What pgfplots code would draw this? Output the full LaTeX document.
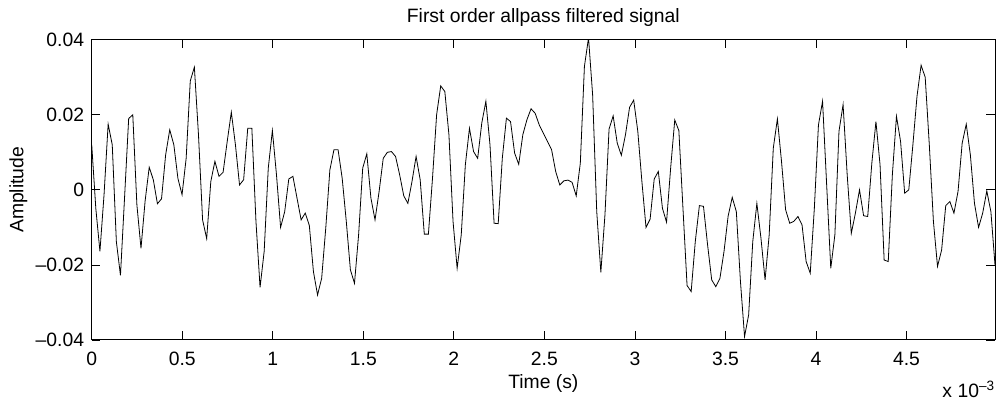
\documentclass[border=0pt]{standalone}
\usepackage{fontspec}
\setmainfont{Liberation Sans}
\usepackage{pgfplots}
\pgfplotsset{compat=1.18}
\usepackage{pgfplotstable}
\usetikzlibrary{calc}
\pgfplotstableread{
n y
0 0.012
1 -0.005
2 -0.0164
3 -0.0013
4 0.0175
5 0.012
6 -0.0138
7 -0.0228
8 -0.002
9 0.019
10 0.020
11 -0.004
12 -0.0156
13 -0.003
14 0.006
15 0.0027
16 -0.0037
17 -0.0024
18 0.0093
19 0.016
20 0.012
21 0.003
22 -0.0013
23 0.0084
24 0.029
25 0.0327
26 0.0147
27 -0.008
28 -0.013
29 0.0022
30 0.0076
31 0.0036
32 0.0047
33 0.0129
34 0.0207
35 0.012
36 0.0013
37 0.0027
38 0.0164
39 0.0164
40 -0.0084
41 -0.026
42 -0.0164
43 0.0058
44 0.0158
45 0.004
46 -0.010
47 -0.0058
48 0.0029
49 0.0036
50 -0.0022
51 -0.008
52 -0.0062
53 -0.0095
54 -0.0218
55 -0.028
56 -0.0236
57 -0.0102
58 0.0053
59 0.0107
60 0.0107
61 0.0031
62 -0.0084
63 -0.0213
64 -0.0249
65 -0.012
66 0.0058
67 0.0096
68 -0.0022
69 -0.008
70 -0.0004
71 0.0084
72 0.010
73 0.0102
74 0.0089
75 0.004
76 -0.0016
77 -0.0036
78 0.0022
79 0.0089
80 0.0027
81 -0.0118
82 -0.0118
83 0.0031
84 0.020
85 0.0277
86 0.0262
87 0.0147
88 -0.0084
89 -0.0209
90 -0.012
91 0.0067
92 0.0164
93 0.0102
94 0.0084
95 0.0178
96 0.0236
97 0.012
98 -0.0089
99 -0.009
100 0.0084
101 0.0191
102 0.0182
103 0.0098
104 0.0068
105 0.0147
106 0.0187
107 0.0216
108 0.0204
109 0.0173
110 0.0151
111 0.0129
112 0.0107
113 0.0049
114 0.0013
115 0.0024
116 0.0026
117 0.002
118 -0.0016
119 0.0071
120 0.0329
121 0.0405
122 0.0253
123 -0.0058
124 -0.022
125 -0.0067
126 0.0162
127 0.0197
128 0.0124
129 0.0092
130 0.0147
131 0.022
132 0.0239
133 0.0156
134 0.0022
135 -0.010
136 -0.0078
137 0.0029
138 0.0049
139 -0.0049
140 -0.0086
141 0.0058
142 0.0186
143 0.0158
144 -0.0049
145 -0.0255
146 -0.0271
147 -0.0138
148 -0.0042
149 -0.0044
150 -0.0147
151 -0.024
152 -0.0258
153 -0.0236
154 -0.0164
155 -0.007
156 -0.002
157 -0.0058
158 -0.0244
159 -0.0391
160 -0.0333
161 -0.0138
162 -0.0036
163 -0.0129
164 -0.024
165 -0.012
166 0.0111
167 0.0189
168 0.0076
169 -0.0053
170 -0.0089
171 -0.0084
172 -0.0071
173 -0.0093
174 -0.0191
175 -0.0222
176 -0.0049
177 0.0173
178 0.0236
179 0.0013
180 -0.0209
181 -0.012
182 0.0156
183 0.0227
184 0.004
185 -0.0116
186 -0.0062
187 0.0
188 -0.0069
189 -0.0071
190 0.0071
191 0.0182
192 0.0067
193 -0.0187
194 -0.0191
195 0.004
196 0.0196
197 0.0129
198 -0.0009
199 0.0
200 0.012
201 0.0249
202 0.0332
203 0.030
204 0.012
205 -0.0084
206 -0.0204
207 -0.016
208 -0.0042
209 -0.0031
210 -0.0062
211 -0.0004
212 0.0124
213 0.0175
214 0.0093
215 -0.0036
216 -0.010
217 -0.0062
218 -0.0003
219 -0.0058
220 -0.02
}\sig

\begin{document}
\begin{tikzpicture}[font=\fontsize{14.5}{17}\selectfont]
\begin{axis}[name=ax, at={(0,0)}, anchor=south west,
  scale only axis, width=677.5pt, height=225.2pt,
  xmin=0, xmax=220, ymin=-0.04, ymax=0.04,
  scaled x ticks=false, scaled y ticks=false,
  xtick={0,22.05,44.1,66.15,88.2,110.25,132.3,154.35,176.4,198.45},
  xticklabels={0,0.5,1,1.5,2,2.5,3,3.5,4,4.5},
  ytick={-0.04,-0.02,0,0.02,0.04},
  yticklabels={–0.04,–0.02,0,0.02,0.04},
  tick align=inside, major tick length=6.4pt,
  axis line style={line width=0.75pt},
  every tick/.style={black, line width=0.6pt},
  xticklabel style={anchor=base, inner sep=0pt, yshift=-19.1pt},
  yticklabel style={anchor=east, inner sep=0pt, xshift=-5.5pt},
  every axis title shift=0pt,
  title={First order allpass filtered signal},
  title style={at={(axis description cs:0.5,1.0577)}, anchor=base, inner sep=0pt, yshift=0pt},
  xlabel={Time (s)},
  xlabel style={at={(axis description cs:0.5,-0.1607)}, anchor=base, inner sep=0pt},
  ylabel={Amplitude},
  ylabel style={at={(axis description cs:-0.0757,0.5)}, anchor=base, inner sep=0pt},
]
\addplot[black, line width=0.6pt, mark=none] table[x=n, y=y] {\sig};
\end{axis}
\node[anchor=base east, inner sep=0pt] at ($(ax.south east)+(0,-43.3pt)$) {x 10\textsuperscript{–3}};
\pgfresetboundingbox
\path[use as bounding box] ($(ax.south west)+(-68.8pt,-48pt)$) rectangle ($(ax.north east)+(3.75pt,29.8pt)$);
\end{tikzpicture}
\end{document}
